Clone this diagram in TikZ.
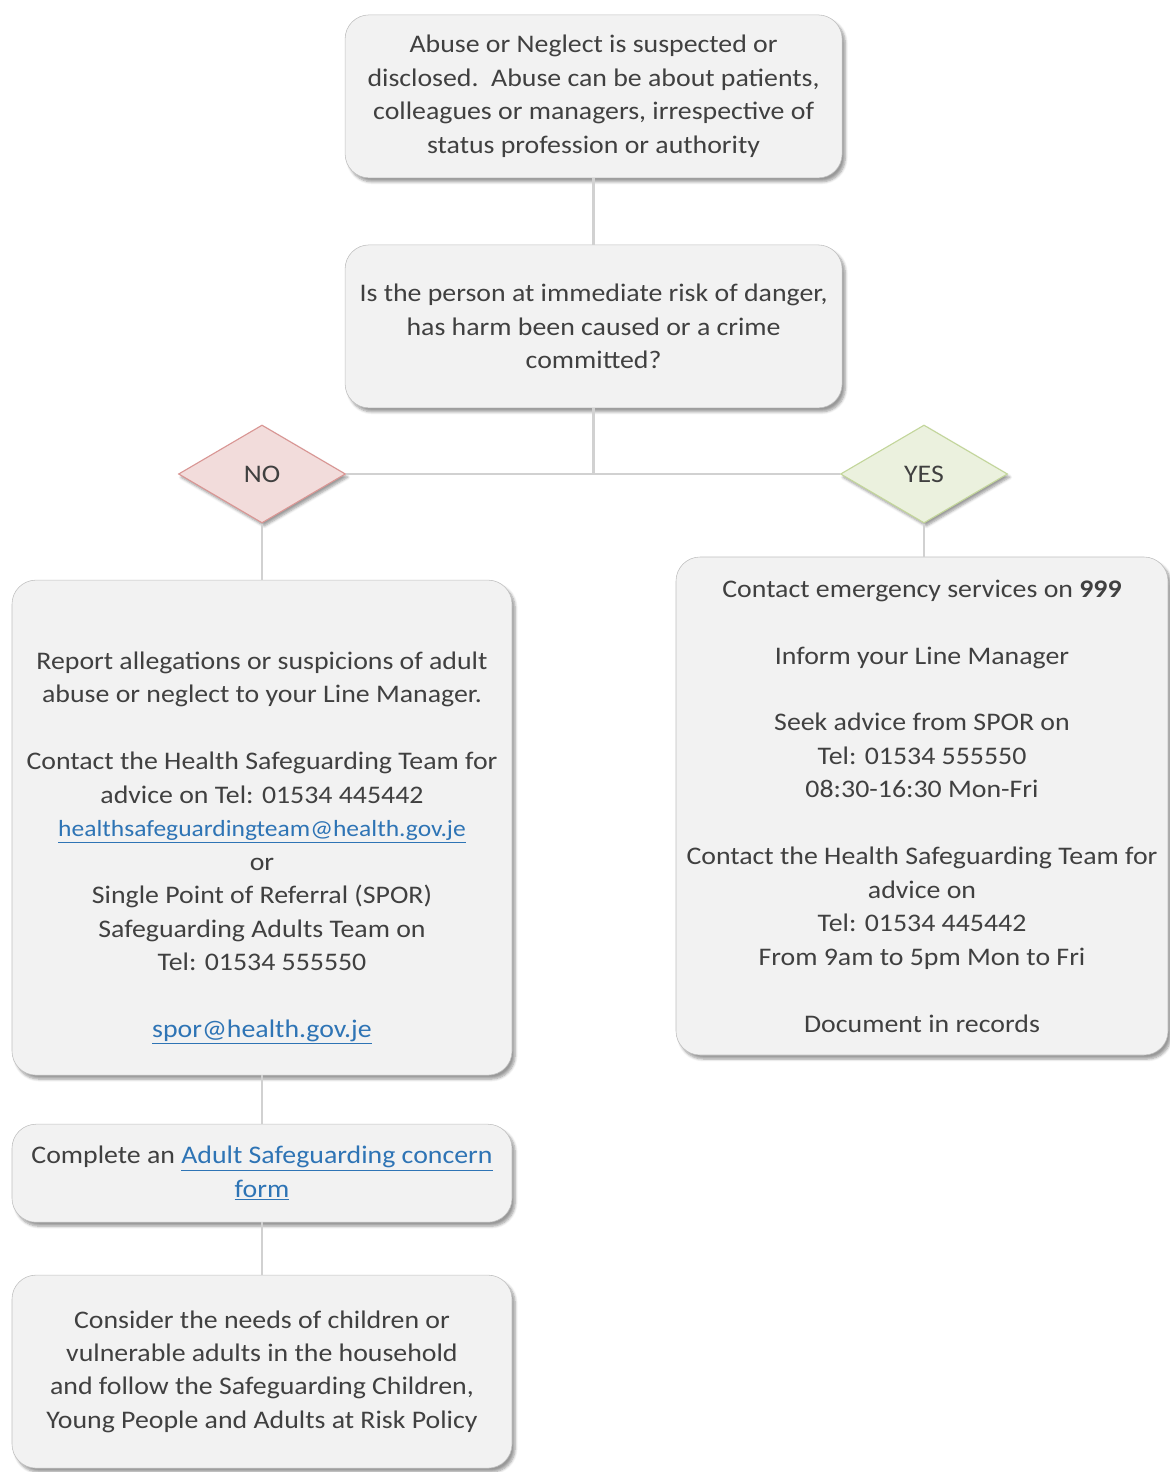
\documentclass[tikz,border=0pt]{standalone}
\usepackage{fontspec}
\setmainfont{Carlito}[FakeStretch=1.1]
\usetikzlibrary{positioning, shapes.geometric, shadows.blur}

\definecolor{boxfill}{HTML}{F2F2F2}
\definecolor{boxline}{HTML}{BFBFBF}
\definecolor{textgrey}{HTML}{404040}
\definecolor{linkblue}{HTML}{2E74B5}
\definecolor{nofill}{HTML}{F2DCDB}
\definecolor{noline}{HTML}{D99694}
\definecolor{yesfill}{HTML}{EBF1DE}
\definecolor{yesline}{HTML}{C3D69B}

\newcommand{\weblink}[1]{\textcolor{linkblue}{\underline{#1}}}

\begin{document}
\begin{tikzpicture}[
			box/.style={rectangle, rounded corners=0.6cm, draw=boxline, fill=boxfill, text=textgrey, align=center, inner sep=0pt, font=\fontsize{18}{23.8}\selectfont, blur shadow={shadow xshift=0.08cm, shadow yshift=-0.1cm, shadow blur steps=6}},
			decision/.style={diamond, draw, thick, minimum width=4.175cm, minimum height=2.45cm, inner sep=0pt, text=textgrey, font=\fontsize{18}{23.8}\selectfont, blur shadow={shadow xshift=0.06cm, shadow yshift=-0.08cm, shadow blur steps=5}},
			link/.style={draw=black!18, line width=2pt}
			]
			\useasboundingbox (0,0) rectangle (29.225,-36.8);
			
			% Main column
			\node[box, minimum width=12.425cm, minimum height=4.075cm] (start) at (14.84,-2.41)
				{Abuse or Neglect is suspected or\\ disclosed.\ \ Abuse can be about patients,\\ colleagues or managers, irrespective of\\ status profession or authority};
			\node[box, minimum width=12.425cm, minimum height=4.075cm] (risk) at (14.84,-8.16)
				{Is the person at immediate risk of danger,\\ has harm been caused or a crime\\ committed?};
			
			% Answers
			\node[decision, fill=nofill, draw=noline] (no) at (6.55,-11.85) {NO};
			\node[decision, fill=yesfill, draw=yesline] (yes) at (23.1,-11.85) {YES};
			
			% NO branch
			\node[box, minimum width=12.5cm, minimum height=12.375cm] (report) at (6.55,-20.69)
				{\mbox{}\\[18pt] Report allegations or suspicions of adult\\ abuse or neglect to your Line Manager.\\[23.8pt]
				 Contact the Health Safeguarding Team for\\ advice on Tel: 01534 445442\\ {\fontsize{16.5}{23.8}\selectfont\weblink{healthsafeguardingteam@health.gov.je}}\\ or\\
				 Single Point of Referral (SPOR)\\ Safeguarding Adults Team on\\ Tel: 01534 555550\\[23.8pt] \weblink{spor@health.gov.je}};
			\node[box, minimum width=12.5cm, minimum height=2.45cm] (form) at (6.55,-29.33)
				{Complete an \weblink{Adult Safeguarding concern}\\ \weblink{form}};
			\node[box, minimum width=12.5cm, minimum height=4.825cm] (needs) at (6.55,-34.29)
				{Consider the needs of children or\\ vulnerable adults in the household\\ and follow the Safeguarding Children,\\ Young People and Adults at Risk Policy};
			
			% YES branch
			\node[box, minimum width=12.3cm, minimum height=12.45cm] (emergency) at (23.05,-20.15)
				{Contact emergency services on \textbf{999}\\[23.8pt] Inform your Line Manager\\[23.8pt]
				 Seek advice from SPOR on\\ Tel: 01534 555550\\ 08:30-16:30 Mon-Fri\\[23.8pt]
				 Contact the Health Safeguarding Team for\\ advice on\\ Tel: 01534 445442\\ From 9am to 5pm Mon to Fri\\[23.8pt] Document in records};
			
			% Connectors
			\draw[link] (start) -- (risk);
			\draw[link] (risk.south) -- (risk.south |- no.east);
			\draw[link] (no.east) -- (yes.west);
			\draw[link] (no) -- (report);
			\draw[link] (yes.south) -- (yes.south |- emergency.north);
			\draw[link] (report) -- (form);
			\draw[link] (form) -- (needs);
		\end{tikzpicture}
\end{document}
